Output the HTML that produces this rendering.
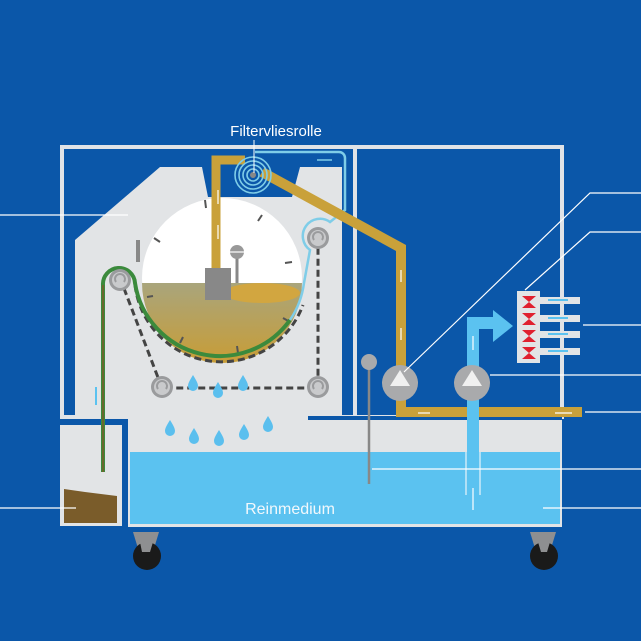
<!DOCTYPE html>
<html><head><meta charset="utf-8"><style>
html,body{margin:0;padding:0;background:#0b57a9;}
svg{display:block}
text{font-family:"Liberation Sans",sans-serif;}
</style></head><body>
<svg width="641" height="641" viewBox="0 0 641 641" xmlns="http://www.w3.org/2000/svg">
<defs>
<linearGradient id="sl" x1="0" y1="0" x2="0" y2="1">
<stop offset="0" stop-color="#a9a57c"/><stop offset="1" stop-color="#c89d36"/></linearGradient>
<g id="drop"><path d="M0,-8 C3,-3 5,0 5,3 A5,5 0 0 1 -5,3 C-5,0 -3,-3 0,-8Z" fill="#5bbfee"/></g>
<g id="roll"><circle r="11" fill="#9a9b9d"/><circle r="8" fill="#c9cacc"/><path d="M-4,2 A5,5 0 1 1 4,2" stroke="#9a9b9d" stroke-width="2" fill="none"/></g>
<g id="hg"><path d="M-7,0 L7,0 L0,6Z M0,6 L7,12 L-7,12Z" fill="#e0202f"/></g>
</defs>
<rect width="641" height="641" fill="#0b57a9"/>
<rect x="62" y="147" width="293" height="270" fill="none" stroke="#e0e3e7" stroke-width="4"/>
<rect x="355" y="147" width="207" height="270" fill="none" stroke="#e0e3e7" stroke-width="4"/>
<polygon points="75,240 160,167 202,167 208,197 292,197 300,167 342,167 342,418 75,418" fill="#e2e4e6"/>
<rect x="128" y="418" width="434" height="109" fill="#e2e4e6"/>
<rect x="308" y="416" width="254" height="4" fill="#0b57a9"/>
<rect x="308" y="420" width="254" height="4" fill="#e2e4e6"/>
<rect x="130" y="452" width="430" height="72" fill="#5bc2f0"/>
<rect x="60" y="425" width="62" height="101" fill="#e2e4e6"/>
<path d="M64,489 L85,492 L117,496 L117,523 L64,523Z" fill="#7a5c2a"/>
<circle cx="222" cy="278" r="80" fill="#ffffff"/>
<path d="M142,283 L302,283 A80,80 0 0 1 142,283Z" fill="url(#sl)"/>
<ellipse cx="262" cy="293" rx="38" ry="10" fill="#d2a640"/>
<g stroke="#555" stroke-width="2">
<line x1="205" y1="200" x2="206" y2="208"/><line x1="262" y1="215" x2="258" y2="221"/><line x1="292" y1="262" x2="285" y2="263"/><line x1="154" y1="238" x2="160" y2="242"/><line x1="290" y1="322" x2="283" y2="318"/><line x1="238" y1="353" x2="237" y2="346"/><line x1="180" y1="343" x2="183" y2="337"/><line x1="147" y1="297" x2="153" y2="296"/>
</g>
<line x1="138" y1="240" x2="138" y2="262" stroke="#888" stroke-width="4"/>
<path d="M120,278 L162,388 L318,388 L318,237" fill="none" stroke="#444" stroke-width="3" stroke-dasharray="7,4"/>
<path d="M135,285 A87,87 0 0 0 303,305" fill="none" stroke="#444" stroke-width="3" stroke-dasharray="7,4"/>
<path d="M103,472 L103,285 A16,16 0 0 1 135,283 A86,86 0 0 0 290,320" fill="none" stroke="#3b8a3c" stroke-width="4"/>
<path d="M103,472 L103,285" fill="none" stroke="#7a5c2a" stroke-width="1.5"/>
<path d="M290,320 A86,86 0 0 0 304,283 L310,250 A16,16 0 0 1 330,222 L345,210 L345,158 A6,6 0 0 0 339,152 L255,152" fill="none" stroke="#7fcde8" stroke-width="2.5"/>
<use href="#roll" x="120" y="280"/><use href="#roll" x="318" y="238"/><use href="#roll" x="162" y="387"/><use href="#roll" x="318" y="387"/>
<path d="M216,268 L216,160 L245,160" fill="none" stroke="#c9a13a" stroke-width="9"/>
<path d="M262,172 L401,248 L401,412 L582,412" fill="none" stroke="#c9a13a" stroke-width="10"/>
<rect x="205" y="268" width="26" height="32" fill="#888"/>
<line x1="237" y1="255" x2="237" y2="283" stroke="#888" stroke-width="3"/>
<circle cx="237" cy="252" r="7" fill="#999"/><line x1="230" y1="252" x2="244" y2="252" stroke="#fff" stroke-width="1.2"/>
<g fill="none" stroke="#7fcde8" stroke-width="1.6">
<circle cx="253" cy="175" r="18"/><circle cx="253" cy="175" r="14"/><circle cx="253" cy="175" r="10"/><circle cx="253" cy="175" r="6"/></g>
<circle cx="253" cy="175" r="3" fill="#888"/>
<line x1="254" y1="140" x2="254" y2="173" stroke="#fff" stroke-width="1"/>
<g stroke="#fff" stroke-width="1.2" fill="#fff">
<line x1="218" y1="190" x2="218" y2="204"/><line x1="218" y1="225" x2="218" y2="239"/>
<line x1="401" y1="340" x2="401" y2="328"/><line x1="401" y1="270" x2="401" y2="282"/>
<line x1="430" y1="413" x2="418" y2="413"/><line x1="572" y1="413" x2="555" y2="413"/>
</g>
<line x1="317" y1="160" x2="332" y2="160" stroke="#7fcde8" stroke-width="1.5"/>
<use href="#drop" x="193" y="383"/><use href="#drop" x="218" y="390"/><use href="#drop" x="243" y="383"/>
<use href="#drop" x="170" y="428"/><use href="#drop" x="194" y="436"/><use href="#drop" x="219" y="438"/><use href="#drop" x="244" y="432"/><use href="#drop" x="268" y="424"/>
<line x1="96" y1="387" x2="96" y2="405" stroke="#5bc2f0" stroke-width="2"/>
<line x1="369" y1="362" x2="369" y2="484" stroke="#888" stroke-width="2.5"/>
<circle cx="369" cy="362" r="8" fill="#a9aaac"/>
<path d="M473,495 L473,323 L497,323" fill="none" stroke="#5bc2f0" stroke-width="12"/>
<line x1="466" y1="452" x2="466" y2="495" stroke="#e8f4fb" stroke-width="1.2"/>
<line x1="480" y1="452" x2="480" y2="495" stroke="#e8f4fb" stroke-width="1.2"/>
<polygon points="493,310 513,326 493,342" fill="#5bc2f0"/>
<line x1="473" y1="510" x2="473" y2="488" stroke="#fff" stroke-width="1.2"/>
<line x1="473" y1="350" x2="473" y2="336" stroke="#fff" stroke-width="1.2"/>
<circle cx="400" cy="383" r="18" fill="#a9aaac"/><polygon points="400,370 410,386 390,386" fill="#f0f0f0"/>
<circle cx="472" cy="383" r="18" fill="#a9aaac"/><polygon points="472,370 482,386 462,386" fill="#f0f0f0"/>
<g fill="#e2e4e6"><rect x="517" y="291" width="23" height="72"/>
<rect x="540" y="297" width="40" height="7"/><rect x="540" y="315" width="40" height="7"/><rect x="540" y="331" width="40" height="7"/><rect x="540" y="348" width="40" height="7"/></g>
<g fill="#5bc2f0"><rect x="548" y="299" width="20" height="2"/><rect x="548" y="317" width="20" height="2"/><rect x="548" y="333" width="20" height="2"/><rect x="548" y="350" width="20" height="2"/></g>
<use href="#hg" x="529" y="296"/><use href="#hg" x="529" y="313"/><use href="#hg" x="529" y="330"/><use href="#hg" x="529" y="347"/>
<g stroke="#fff" stroke-width="1.2" fill="none">
<line x1="0" y1="215" x2="128" y2="215"/>
<polyline points="404,372 590,193 641,193"/>
<polyline points="525,290 590,232 641,232"/>
<line x1="583" y1="325" x2="641" y2="325"/>
<line x1="490" y1="375" x2="641" y2="375"/>
<line x1="585" y1="412" x2="641" y2="412"/>
<line x1="372" y1="469" x2="641" y2="469"/>
<line x1="543" y1="508" x2="641" y2="508"/>
<line x1="0" y1="508" x2="76" y2="508"/>
</g>
<polygon points="133,532 159,532 152,555 140,555" fill="#8e8f91"/><circle cx="147" cy="556" r="14" fill="#1a1a1a"/><polygon points="138,532 156,532 150,552 142,552" fill="#8e8f91"/>
<polygon points="530,532 556,532 549,555 537,555" fill="#8e8f91"/><circle cx="544" cy="556" r="14" fill="#1a1a1a"/><polygon points="535,532 553,532 547,552 541,552" fill="#8e8f91"/>
<text x="276" y="136" fill="#fff" font-size="15" text-anchor="middle">Filtervliesrolle</text>
<text x="290" y="514" fill="#f2f8fc" font-size="16" text-anchor="middle">Reinmedium</text>
</svg>
</body></html>
